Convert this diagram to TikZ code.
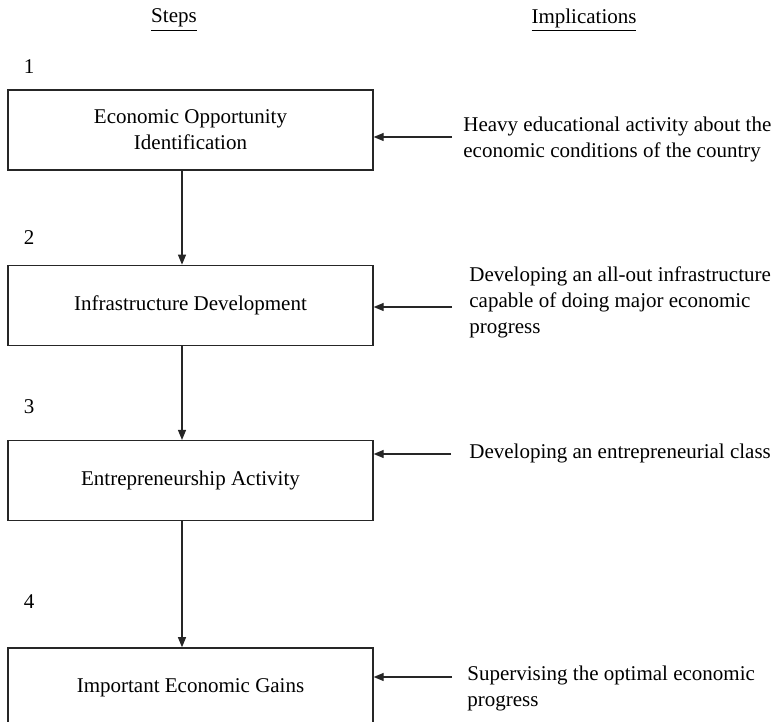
\documentclass[tikz,border=0pt]{standalone}
\usepackage{fontspec}
\setmainfont{Liberation Serif}
\usepackage{tikz}
\usetikzlibrary{arrows.meta, positioning}

\begin{document}
\begin{tikzpicture}[
    x=0.5pt, y=-0.5pt,
    node distance=47pt,
    stepbox/.style={rectangle, draw=black!85, line width=0.65pt, minimum width=182.5pt, minimum height=40pt, inner sep=0pt, align=center, font=\fontsize{10.5}{13}\selectfont},
    impl/.style={anchor=west, inner sep=0pt, align=left, font=\fontsize{10.5}{13}\selectfont},
    num/.style={inner sep=0pt, font=\fontsize{10.5}{13}\selectfont},
    arrow/.style={-{Triangle[length=5pt, width=4pt]}, line width=0.6pt, draw=black!85}
]
    \useasboundingbox (0,0) rectangle (773,722);

    % Column headers
    \node[num] (hsteps) at (174,20) {\underline{Steps}};
    \node[num] (himpl) at (584,20) {\underline{Implications}};

    % Steps
    \node[stepbox] at (190.5,130) (step1) {Economic Opportunity\\Identification};
    \node[stepbox, below=of step1] (step2) {Infrastructure Development};
    \node[stepbox, below=of step2] (step3) {Entrepreneurship Activity};
    \node[stepbox, below=63pt of step3] (step4) {Important Economic Gains};

    % Step numbers
    \node[num] (n1) at (29,67) {1};
    \node[num] (n2) at (29,238) {2};
    \node[num] (n3) at (29,407) {3};
    \node[num] (n4) at (29,602) {4};

    % Implications
    \node[impl] (imp1) at (463,139) {Heavy educational activity about the\\economic conditions of the country};
    \node[impl] (imp2) at (469,302) {Developing an all-out infrastructure\\capable of doing major economic\\progress};
    \node[impl] (imp3) at (469,453) {Developing an entrepreneurial class};
    \node[impl] (imp4) at (467,688) {Supervising the optimal economic\\progress};

    % Arrow ends
    \coordinate (ax) at (182,0);
    \coordinate (a1) at (452,137);
    \coordinate (a2) at (452,307);
    \coordinate (a3) at (451,454);
    \coordinate (a4) at (452,677);

    % Connections
    \draw[arrow] (step1.south -| ax) -- (step2.north -| ax);
    \draw[arrow] (step2.south -| ax) -- (step3.north -| ax);
    \draw[arrow] (step3.south -| ax) -- (step4.north -| ax);
    \draw[arrow] (a1) -- (a1 -| step1.east);
    \draw[arrow] (a2) -- (a2 -| step2.east);
    \draw[arrow] (a3) -- (a3 -| step3.east);
    \draw[arrow] (a4) -- (a4 -| step4.east);
\end{tikzpicture}
\end{document}
